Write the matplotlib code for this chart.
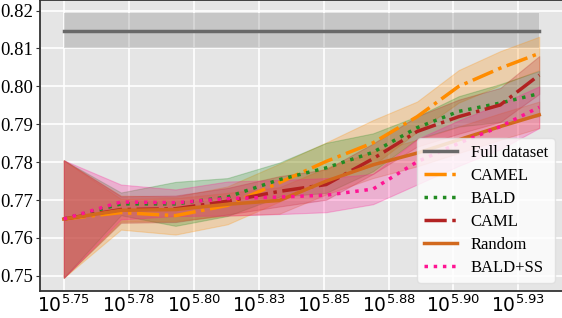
import matplotlib
matplotlib.use('Agg')
import matplotlib.pyplot as plt
import numpy as np

# log10 of training set size
x_log = [5.750, 5.772, 5.793, 5.813, 5.833, 5.851, 5.869, 5.886, 5.902, 5.918, 5.933]
tick_pos = [5.750, 5.775, 5.800, 5.825, 5.850, 5.875, 5.900, 5.925]
tick_txt = ['5.75', '5.78', '5.80', '5.83', '5.85', '5.88', '5.90', '5.93']

full_mean = 0.8147
full_std = 0.0046

camel_mean = [0.765, 0.7667, 0.7659, 0.7686, 0.7746, 0.7802, 0.7851, 0.7920, 0.8000, 0.8048, 0.8087]
camel_std = [0.0155, 0.0045, 0.0050, 0.0050, 0.0050, 0.0050, 0.0060, 0.0040, 0.0043, 0.0045, 0.0044]
bald_mean = [0.765, 0.7690, 0.7690, 0.7708, 0.7754, 0.7785, 0.7826, 0.7891, 0.7934, 0.7956, 0.7981]
bald_std = [0.0155, 0.0030, 0.0058, 0.0050, 0.0045, 0.0066, 0.0050, 0.0030, 0.0040, 0.0050, 0.0060]
caml_mean = [0.765, 0.7675, 0.7677, 0.7697, 0.7723, 0.7741, 0.7809, 0.7881, 0.7920, 0.7951, 0.8030]
caml_std = [0.0155, 0.0035, 0.0035, 0.0035, 0.0040, 0.0040, 0.0040, 0.0040, 0.0045, 0.0045, 0.0050]
random_mean = [0.765, 0.7673, 0.7675, 0.7689, 0.7699, 0.7750, 0.7793, 0.7824, 0.7859, 0.7894, 0.7925]
random_std = [0.0155, 0.0030, 0.0030, 0.0030, 0.0035, 0.0035, 0.0035, 0.0035, 0.0035, 0.0035, 0.0035]
ss_mean = [0.765, 0.7695, 0.7693, 0.7704, 0.7708, 0.7713, 0.7729, 0.7801, 0.7850, 0.7894, 0.7945]
ss_std = [0.0155, 0.0046, 0.0035, 0.0045, 0.0045, 0.0045, 0.0040, 0.0060, 0.0060, 0.0060, 0.0055]

plt.rcParams['font.family'] = ['Liberation Serif', 'DejaVu Serif']
plt.rcParams['mathtext.fontset'] = 'dejavusans'

fig = plt.figure(figsize=(5.62, 3.18), dpi=100)
ax = fig.add_axes([40 / 562, 1 - 291 / 318, 523 / 562, 291 / 318])
ax.set_facecolor('#e5e5e5')
ax.grid(True, color='white', linewidth=1.2)
ax.set_axisbelow(True)
for s in ax.spines.values():
    s.set_color('#333333')
    s.set_linewidth(1.3)

x = np.array(x_log)
ax.plot(x, [full_mean] * len(x), color='dimgray', lw=2.5, label='Full dataset')
ax.fill_between(x, full_mean - full_std, full_mean + full_std, color='gray', alpha=0.3, lw=0)

series = [
    ('CAMEL', camel_mean, camel_std, 'darkorange', '-.'),
    ('BALD', bald_mean, bald_std, 'forestgreen', ':'),
    ('CAML', caml_mean, caml_std, 'firebrick', '-.'),
    ('Random', random_mean, random_std, 'chocolate', '-'),
    ('BALD+SS', ss_mean, ss_std, 'deeppink', ':'),
]
for name, m, sd, c, ls in series:
    m = np.array(m)
    sd = np.array(sd)
    ax.plot(x, m, color=c, ls=ls, lw=2.5, label=name)
    ax.fill_between(x, m - sd, m + sd, color=c, alpha=0.25, lw=0.8)

ax.set_xticks(tick_pos)
ax.set_xticklabels(['$10^{%s}$' % t for t in tick_txt])
ax.set_yticks([0.75, 0.76, 0.77, 0.78, 0.79, 0.80, 0.81, 0.82])
ax.set_yticklabels(['0.75', '0.76', '0.77', '0.78', '0.79', '0.80', '0.81', '0.82'])
ax.tick_params(axis='both', labelsize=13.5, colors='#333333', labelcolor='black')
ax.tick_params(axis='x', length=0, pad=2.5)
ax.tick_params(axis='y', length=3, pad=2)

ax.legend(loc='lower right', fontsize=12, framealpha=0.8, facecolor='white',
          edgecolor='#dddddd', labelspacing=0.42)

fig.savefig('out.png', dpi=100)
